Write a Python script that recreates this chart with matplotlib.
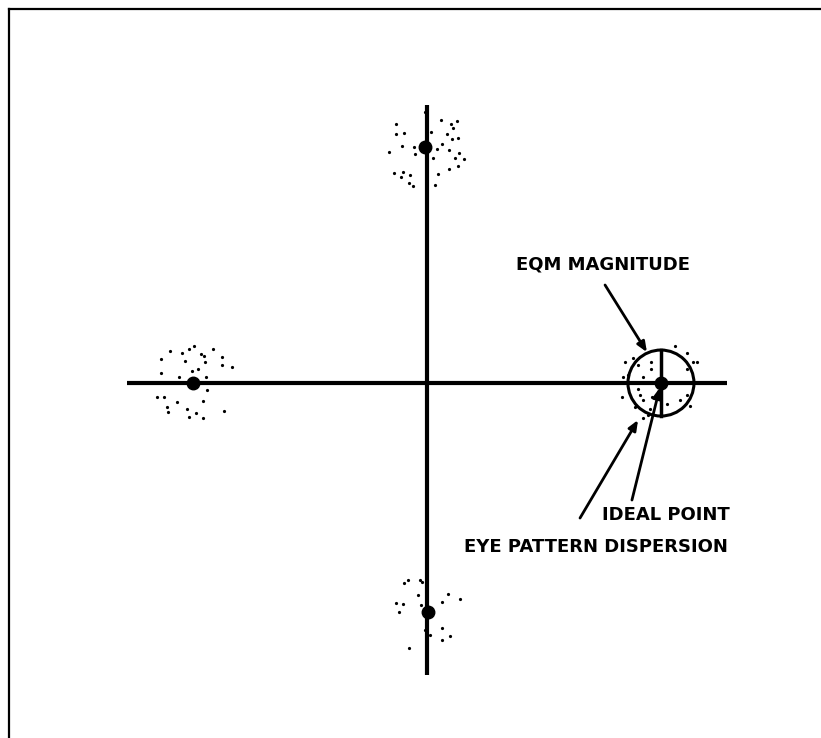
import numpy as np
import matplotlib
matplotlib.use("Agg")
import matplotlib.pyplot as plt
from matplotlib.lines import Line2D
from matplotlib.patches import Circle

# ideal constellation points (I, Q)
ideal_i = [1.0, -0.009, -1.0, 0.004]
ideal_q = [0.0, 1.009, 0.0, -0.979]

# received samples scattered round each ideal point, as (dI, dQ) offsets
right_di = [-0.154, -0.118, -0.097, -0.044, -0.043, 0.060, 0.110, 0.138, 0.152, 0.113,
            -0.164, -0.140, -0.075, -0.168, -0.097, -0.090, -0.075, -0.040, -0.111,
            -0.047, -0.054, 0.081, 0.110, 0.124, 0.024, -0.078]
right_dq = [0.091, 0.105, 0.077, 0.091, 0.058, 0.160, 0.130, 0.091, 0.091, 0.058,
            0.024, 0.034, 0.027, -0.058, -0.027, -0.051, -0.073, -0.061, -0.101,
            -0.113, -0.137, -0.073, -0.051, -0.098, -0.090, -0.151]

top_di = [-0.124, -0.124, -0.088, -0.152, -0.097, 0.068, 0.110, 0.121, 0.138, 0.095,
          0.114, 0.142, 0.071, 0.104, 0.147, 0.128, 0.168, 0.104, 0.142, 0.057,
          -0.131, -0.093, -0.103, -0.064, -0.067, -0.050, 0.036, 0.050, 0.026,
          -0.046, -0.043, 0.043, 0.000]
top_dq = [0.098, 0.056, 0.058, -0.020, 0.004, 0.115, 0.098, 0.080, 0.111, 0.054,
          0.033, 0.037, 0.013, -0.013, -0.027, -0.048, -0.053, -0.095, -0.081, -0.117,
          -0.110, -0.105, -0.130, -0.120, -0.152, -0.167, -0.048, -0.010, 0.066,
          0.001, -0.031, -0.162, 0.151]

left_di = [0.004, -0.016, -0.048, -0.098, -0.137, 0.033, 0.047, 0.087, 0.123, 0.123,
           0.165, -0.034, 0.051, 0.023, -0.006, -0.137, -0.058, 0.056, -0.155, -0.123,
           -0.067, 0.041, -0.113, -0.105, -0.024, 0.013, -0.016, 0.044, 0.134, 0.058]
left_dq = [0.160, 0.145, 0.127, 0.138, 0.101, 0.124, 0.115, 0.145, 0.110, 0.077,
           0.067, 0.095, 0.091, 0.058, 0.053, 0.041, 0.027, 0.024, -0.061, -0.058,
           -0.080, -0.075, -0.101, -0.123, -0.111, -0.130, -0.147, -0.151, -0.120, -0.030]

bottom_di = [-0.101, -0.084, -0.034, -0.027, -0.041, -0.137, -0.105, -0.123, -0.030,
             0.084, 0.137, 0.058, 0.058, 0.094, 0.058, -0.080, -0.013, 0.009]
bottom_dq = [0.123, 0.137, 0.137, 0.130, 0.073, 0.037, 0.033, 0.001, 0.030,
             0.077, 0.058, 0.044, -0.067, -0.103, -0.120, -0.152, -0.077, -0.098]

evm_radius = 0.141

fig = plt.figure(figsize=(8.21, 7.38), dpi=100)
ax = fig.add_axes([0, 0, 1, 1])
ax.set_xlim(-1.825, 1.684)
ax.set_ylim(-1.517, 1.637)
ax.axis("off")

# frame round the figure (left and top edges only)
fig.add_artist(Line2D([0.011, 0.011], [0.0, 0.988], transform=fig.transFigure,
                      color="black", lw=1.6))
fig.add_artist(Line2D([0.011, 1.0], [0.988, 0.988], transform=fig.transFigure,
                      color="black", lw=1.6))

# I and Q axes
ax.plot([-1.282, 1.282], [0, 0], color="black", lw=3, solid_capstyle="butt")
ax.plot([0, 0], [-1.248, 1.188], color="black", lw=3, solid_capstyle="butt")

clusters = [(right_di, right_dq), (top_di, top_dq), (left_di, left_dq), (bottom_di, bottom_dq)]
for (di, dq), ci, cq in zip(clusters, ideal_i, ideal_q):
    ax.plot(ci + np.array(di), cq + np.array(dq), "o", color="black",
            markersize=2.3, markeredgewidth=0)

ax.plot(ideal_i, ideal_q, "o", color="black", markersize=9)

# error circle and crosshair round the right-hand point
ax.add_patch(Circle((ideal_i[0], ideal_q[0]), evm_radius, fill=False,
                    edgecolor="black", lw=2.2))
ax.plot([ideal_i[0], ideal_i[0]], [-evm_radius, evm_radius], color="black", lw=2.5)

arrow = dict(arrowstyle="-|>,head_length=0.6,head_width=0.25", color="black", lw=2,
             shrinkA=0, shrinkB=0)
ax.annotate("", xy=(0.940, 0.132), xytext=(0.761, 0.419), arrowprops=arrow)
ax.annotate("", xy=(0.995, -0.02), xytext=(0.876, -0.500), arrowprops=arrow)
ax.annotate("", xy=(0.902, -0.158), xytext=(0.654, -0.577), arrowprops=arrow)

label_style = dict(fontsize=13, fontweight="bold", family="DejaVu Sans",
                   ha="right", va="center", color="black")
ax.text(1.124, 0.508, "EQM MAGNITUDE", **label_style)
ax.text(1.295, -0.564, "IDEAL POINT", **label_style)
ax.text(1.286, -0.701, "EYE PATTERN DISPERSION", **label_style)

fig.savefig("out.png", dpi=100, facecolor="white")
